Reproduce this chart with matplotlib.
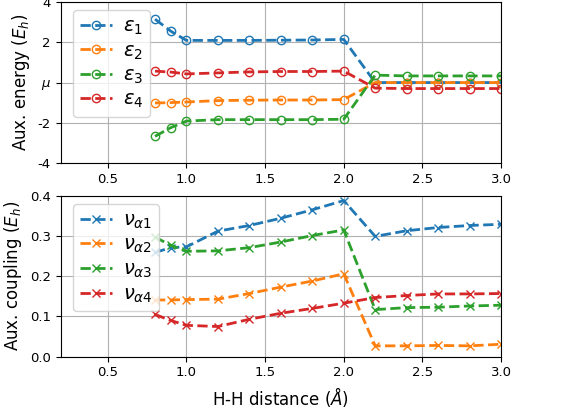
import numpy as np
import matplotlib
matplotlib.use("Agg")
import matplotlib.pyplot as plt

plt.rcParams['axes.unicode_minus'] = False
plt.rcParams['xtick.labelsize'] = 9.5
plt.rcParams['ytick.labelsize'] = 9.5

# bond lengths (Angstrom)
r = [0.8, 0.9, 1.0, 1.2, 1.4, 1.6, 1.8, 2.0, 2.2, 2.4, 2.6, 2.8, 3.0]

# auxiliary energies relative to mu
eps1 = [3.16, 2.56, 2.10, 2.10, 2.10, 2.11, 2.12, 2.15, 0.00, 0.00, 0.00, 0.00, 0.00]
eps2 = [-1.02, -1.00, -0.97, -0.90, -0.88, -0.87, -0.87, -0.85, 0.00, 0.00, 0.00, 0.00, 0.00]
eps3 = [-2.68, -2.25, -1.92, -1.85, -1.85, -1.85, -1.85, -1.83, 0.37, 0.33, 0.33, 0.33, 0.33]
eps4 = [0.57, 0.52, 0.43, 0.48, 0.53, 0.55, 0.55, 0.57, -0.28, -0.30, -0.30, -0.30, -0.30]

# auxiliary couplings
nu1 = [0.259, 0.271, 0.273, 0.312, 0.326, 0.344, 0.365, 0.388, 0.299, 0.313, 0.321, 0.326, 0.329]
nu2 = [0.141, 0.141, 0.142, 0.143, 0.157, 0.173, 0.188, 0.206, 0.027, 0.027, 0.028, 0.027, 0.031]
nu3 = [0.297, 0.277, 0.262, 0.263, 0.271, 0.285, 0.301, 0.315, 0.117, 0.122, 0.123, 0.126, 0.128]
nu4 = [0.105, 0.090, 0.078, 0.075, 0.093, 0.108, 0.120, 0.133, 0.147, 0.152, 0.156, 0.156, 0.157]

energies = [eps1, eps2, eps3, eps4]
couplings = [nu1, nu2, nu3, nu4]
eps_labels = [r'$\varepsilon_1$', r'$\varepsilon_2$', r'$\varepsilon_3$', r'$\varepsilon_4$']
nu_labels = [r'$\nu_{\alpha 1}$', r'$\nu_{\alpha 2}$', r'$\nu_{\alpha 3}$', r'$\nu_{\alpha 4}$']
colors = ['C0', 'C1', 'C2', 'C3']

leg_kw = dict(fontsize=14, numpoints=1, handlelength=1.65, handletextpad=0.55,
              borderpad=0.35, loc='upper left', bbox_to_anchor=(0.0286, 0.95),
              borderaxespad=0)

fig = plt.figure(figsize=(5.65, 4.08), dpi=100)
ax1 = fig.add_axes([0.1074, 0.601, 0.7793, 0.3934])
ax2 = fig.add_axes([0.1074, 0.1257, 0.7793, 0.3946])

for e, lab, c in zip(energies, eps_labels, colors):
    ax1.plot(r, e, '--o', color=c, lw=2, ms=6, mfc='none', label=lab)
for v, lab, c in zip(couplings, nu_labels, colors):
    ax2.plot(r, v, '--x', color=c, lw=2, ms=6, label=lab)

ax1.set_xlim(0.2, 3.0)
ax1.set_ylim(-4, 4)
ax1.set_yticks([-4, -2, 0, 2, 4])
ax1.set_yticklabels(['-4', '-2', r'$\mu$', '2', '4'])
ax1.set_ylabel(r'Aux. energy ($E_h$)', fontsize=12)
ax1.grid(True)
ax1.legend(labelspacing=0.2, **leg_kw)

ax2.set_xlim(0.2, 3.0)
ax2.set_ylim(0.0, 0.4)
ax2.set_xlabel(r'H-H distance ($\AA$)', fontsize=12)
ax2.set_ylabel(r'Aux. coupling ($E_h$)', fontsize=12)
ax2.grid(True)
ax2.legend(labelspacing=0.22, **leg_kw)

fig.savefig('out.png', dpi=100)
